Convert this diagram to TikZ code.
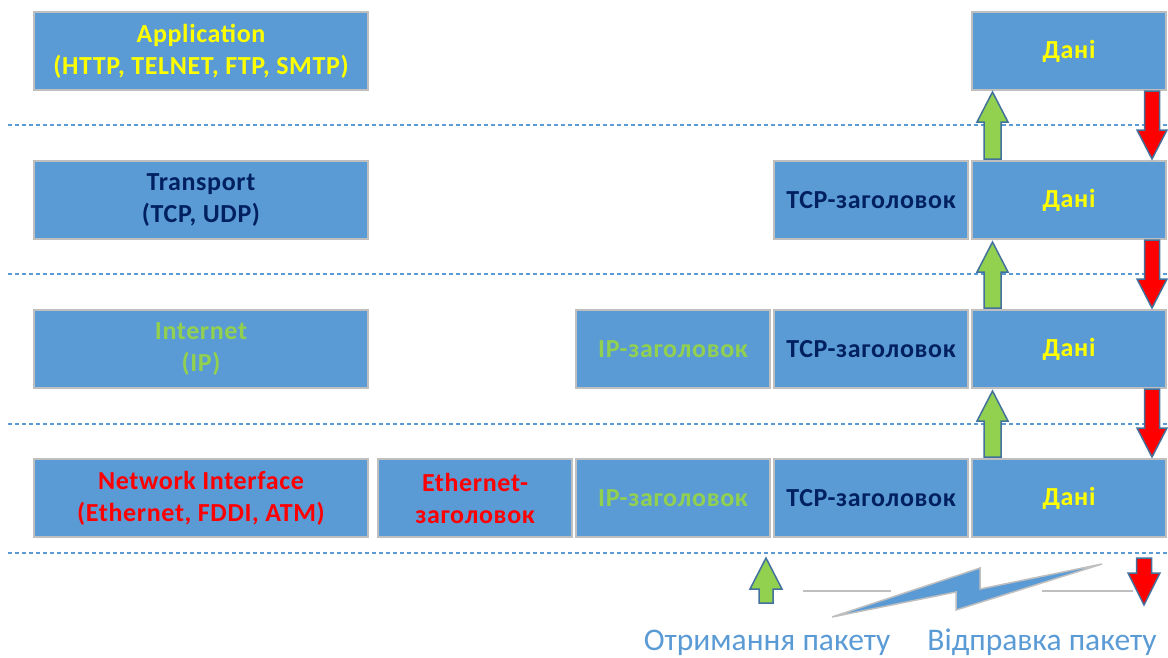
\documentclass[tikz,border=0pt]{standalone}
\usepackage{fontspec}
\setmainfont{Carlito}
\newfontfamily\boxfont[LetterSpace=2.5]{Carlito}
\definecolor{boxblue}{HTML}{5B9BD5}
\definecolor{rim}{HTML}{BFBFBF}
\definecolor{navy}{HTML}{002060}
\definecolor{lgreen}{HTML}{92D050}
\definecolor{hyellow}{HTML}{FFFF00}
\definecolor{arrowrim}{HTML}{41719C}

% block arrow pointing up: centre x, tip y, foot y, shaft half width, head half width, head length
\newcommand\BlockUp[7][]{%
  \filldraw[#1] (#2,#3) -- (#2+#6,#3+#7) -- (#2+#5,#3+#7) -- (#2+#5,#4)
    -- (#2-#5,#4) -- (#2-#5,#3+#7) -- (#2-#6,#3+#7) -- cycle;}
% block arrow pointing down: centre x, top y, tip y, shaft half width, head half width, head length
\newcommand\BlockDown[7][]{%
  \filldraw[#1] (#2-#5,#3) -- (#2+#5,#3) -- (#2+#5,#4-#7) -- (#2+#6,#4-#7)
    -- (#2,#4) -- (#2-#6,#4-#7) -- (#2-#5,#4-#7) -- cycle;}

\begin{document}
\begin{tikzpicture}[x=1pt,y=-1pt,
  layer/.style={draw=rim, line width=2pt, fill=boxblue, minimum width=334pt,
    minimum height=78pt, inner sep=0pt, align=center,
    font=\boxfont\fontsize{26}{32}\selectfont\bfseries},
  cell/.style={layer, minimum width=194pt},
  sep/.style={boxblue, line width=1.8pt, dash pattern=on 4pt off 3pt},
  upar/.style={fill=lgreen, draw=arrowrim, line width=1.5pt},
  downar/.style={fill=red, draw=arrowrim, line width=1.5pt},
  caption/.style={font=\fontsize{31.5}{36}\selectfont, text=boxblue, anchor=base},
]
\useasboundingbox (0,0) rectangle (1168,657);

% layer separators
\foreach \y in {125,274,424,553}
  \draw[sep] (8,\y) -- (1168,\y);

% protocol layers
\node[layer, text=hyellow] (app) at (201,51) {Application\\(HTTP, TELNET, FTP, SMTP)};
\node[layer, text=navy] (tr) at (201,200) {Transport\\(TCP, UDP)};
\node[layer, text=lgreen] (inet) at (201,349) {Internet\\(IP)};
\node[layer, text=red] (net) at (201,498) {Network Interface\\(Ethernet, FDDI, ATM)};

% encapsulated data units
\node[cell, text=hyellow] (d1) at (1069,51) {Дані};

\node[cell, text=navy] (tcp2) at (871,200) {TCP-заголовок};
\node[cell, text=hyellow] (d2) at (1069,200) {Дані};

\node[cell, text=lgreen] (ip3) at (673,349) {IP-заголовок};
\node[cell, text=navy] (tcp3) at (871,349) {TCP-заголовок};
\node[cell, text=hyellow] (d3) at (1069,349) {Дані};

\node[cell, text=red] (eth4) at (475,498) {Ethernet-\\заголовок};
\node[cell, text=lgreen] (ip4) at (673,498) {IP-заголовок};
\node[cell, text=navy] (tcp4) at (871,498) {TCP-заголовок};
\node[cell, text=hyellow] (d4) at (1069,498) {Дані};

% receiving direction (up) and sending direction (down)
\BlockUp[upar]{992.5}{92}{159}{8.5}{15.5}{30}
\BlockUp[upar]{992.5}{242}{308}{8.5}{15.5}{30}
\BlockUp[upar]{992.5}{391}{457}{8.5}{15.5}{30}
\BlockDown[downar]{1152}{91}{159}{7.5}{15}{29}
\BlockDown[downar]{1152}{240}{308}{7.5}{15}{29}
\BlockDown[downar]{1152}{389}{457}{7.5}{15}{29}

% transmission link
\draw[rim, line width=1.5pt] (803,591) -- (891,591);
\draw[rim, line width=1.5pt] (1042,591) -- (1133,591);
\filldraw[fill=boxblue, draw=rim, line width=1.5pt, line join=miter]
  (832,617) -- (980,568) -- (980,589) -- (1102,564) -- (956,610) -- (956,592) -- cycle;

\BlockUp[upar]{766}{558}{603}{7}{16}{31}
\BlockDown[downar]{1144}{558}{605}{7.5}{16}{32}

\node[caption] (rx) at (767,650) {Отримання пакету};
\node[caption] (tx) at (1042,650) {Відправка пакету};
\end{tikzpicture}
\end{document}
